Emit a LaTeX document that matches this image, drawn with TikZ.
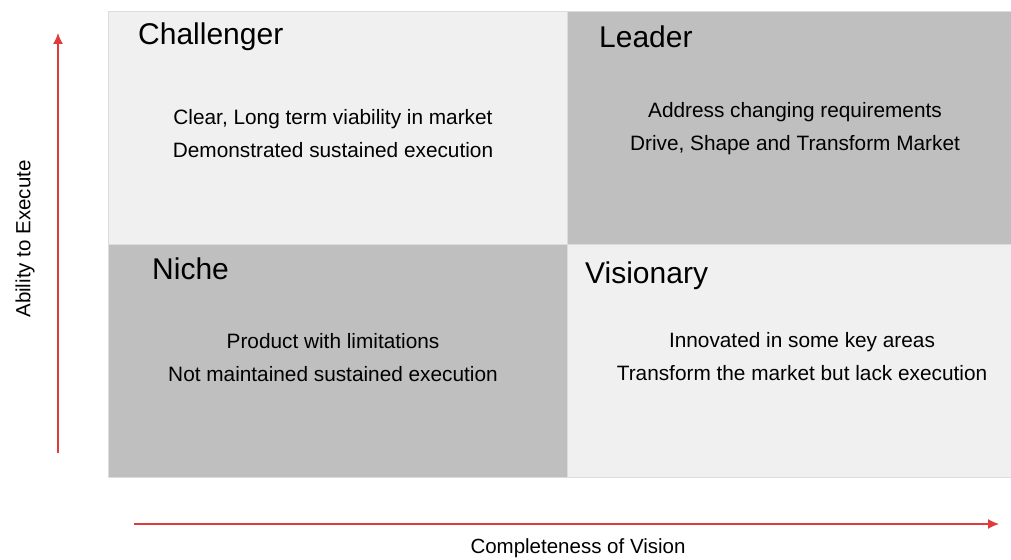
\documentclass[tikz,border=0pt]{standalone}
\usepackage{fontspec}
\setmainfont{Liberation Sans}
\definecolor{quadlight}{HTML}{F0F0F0}
\definecolor{quaddark}{HTML}{BFBFBF}
\definecolor{quadedge}{HTML}{DCDCDC}
\definecolor{axisred}{HTML}{E03A3A}
\tikzset{
  quad/.style={draw=quadedge, line width=1.2pt, minimum width=#1, minimum height=233pt, inner sep=0pt, anchor=north west},
  title/.style={font=\fontsize{30}{36}\selectfont, anchor=west, inner sep=0pt},
  body/.style={font=\fontsize{20.8}{33}\selectfont, align=center, inner sep=0pt},
  axis/.style={draw=axisred, line width=1.3pt, -{Latex[length=11pt,width=10pt]}},
  axislabel/.style={font=\fontsize{20.5}{24}\selectfont, inner sep=0pt}
}
\usetikzlibrary{arrows.meta}
\begin{document}
\begin{tikzpicture}[x=1pt,y=-1pt]
    \useasboundingbox[fill=white] (0,0) rectangle (1011,559);
    % quadrants
    \node[quad=459pt, fill=quadlight] (challenger) at (108,11) {};
    \node[quad=444pt, fill=quaddark] (leader) at (567,11) {};
    \node[quad=459pt, fill=quaddark] (niche) at (108,244) {};
    \node[quad=444pt, fill=quadlight] (visionary) at (567,244) {};
    % titles
    \node[title] (t1) at (138,37) {Challenger};
    \node[title] (t2) at (599,37) {Leader};
    \node[title] (t3) at (152,269) {Niche};
    \node[title] (t4) at (585,276) {Visionary};
    % texts
    \node[body] (b1) at (333,134) {Clear, Long term viability in market\\Demonstrated sustained execution};
    \node[body] (b2) at (795,129) {Address changing requirements\\Drive, Shape and Transform Market};
    \node[body] (b3) at (333,358) {Product with limitations\\Not maintained sustained execution};
    \node[body] (b4) at (802,357) {Innovated in some key areas\\Transform the market but lack execution};
    % axes
    \coordinate (ybot) at (58,453);
    \coordinate (ytop) at (58,33);
    \coordinate (xleft) at (134,524);
    \coordinate (xright) at (999,524);
    \draw[axis] (ybot) -- (ytop);
    \draw[axis] (xleft) -- (xright);
    \node[axislabel, rotate=90] (ylab) at (25,239) {Ability to Execute};
    \node[axislabel] (xlab) at (578,548) {Completeness of Vision};
\end{tikzpicture}
\end{document}
